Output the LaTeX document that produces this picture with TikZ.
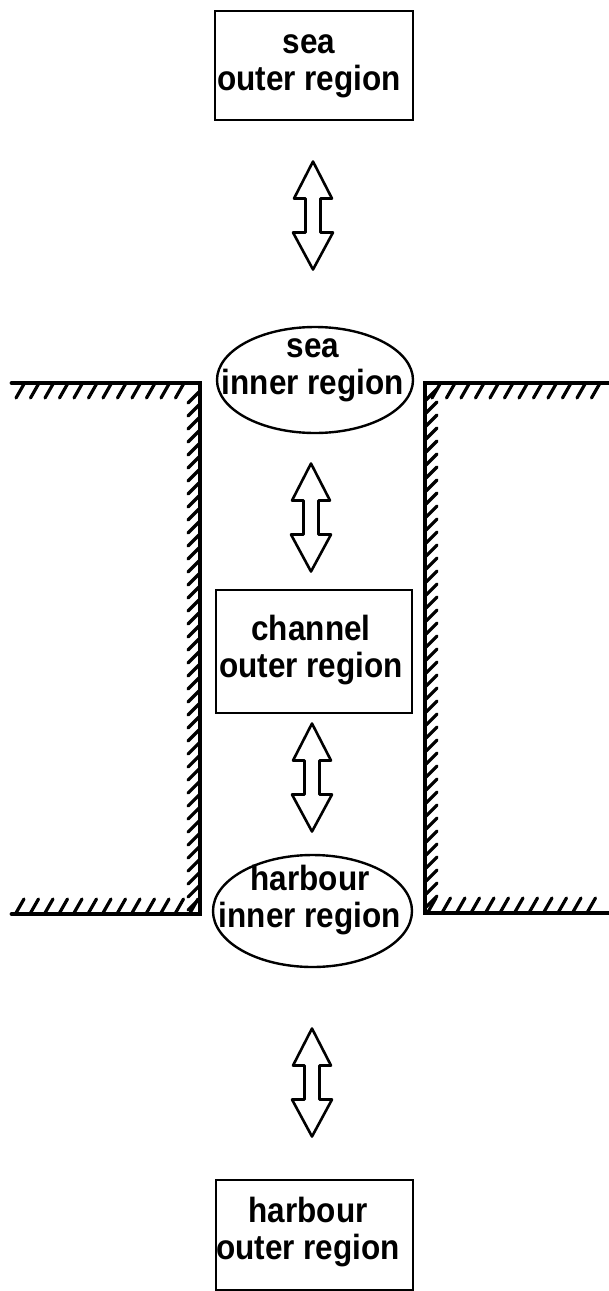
\documentclass[tikz,border=0pt]{standalone}
\usepackage{fontspec}
\setmainfont{Liberation Sans}
\newfontfamily\lettering{Liberation Sans}[UprightFont=*-Bold, FakeStretch=0.9]
\usetikzlibrary{shapes.geometric}

\tikzset{
  boxshape/.style={draw, line width=2.8pt, rectangle, inner sep=0pt},
  ovalshape/.style={draw, line width=2.4pt, ellipse, inner sep=0pt},
  lbl/.style={align=center, inner sep=0pt, font=\lettering\fontsize{35}{37}\selectfont},
  wall/.style={line width=4.8pt, line cap=round, line join=miter},
  hatch/.style={line width=3.2pt, line cap=round},
  arrowline/.style={line width=2.6pt, line join=round},
  updown/.pic={
    \draw[arrowline] (0,-54) -- (19,-17) -- (7.5,-17) -- (7.5,17) -- (20,17)
      -- (0,54) -- (-20,17) -- (-7.5,17) -- (-7.5,-17) -- (-19,-17) -- cycle;
  }
}

\begin{document}
\begin{tikzpicture}[x=1pt, y=-1pt]
  \useasboundingbox (0,0) rectangle (609,1291);

  % region boxes and ovals
  \node[boxshape, minimum width=198pt, minimum height=109pt] (seaouter) at (314,65.5) {};
  \node[ovalshape, minimum width=196pt, minimum height=106pt] (seainner) at (315,380) {};
  \node[boxshape, minimum width=196pt, minimum height=123pt] (channel) at (314,651.5) {};
  \node[ovalshape, minimum width=199pt, minimum height=112pt] (harbinner) at (312.5,911) {};
  \node[boxshape, minimum width=197pt, minimum height=110pt] (harbouter) at (314.5,1235) {};

  % labels
  \node[lbl] (seaoutertext) at (309,66) {sea\\outer region};
  \node[lbl] (seainnertext) at (313,370) {sea\\inner region};
  \node[lbl] (channeltext) at (311,650) {channel\\outer region};
  \node[lbl] (harbinnertext) at (310,900) {harbour\\inner region};
  \node[lbl] (harboutertext) at (308,1232) {harbour\\outer region};

  % exchange arrows between neighbouring regions
  \coordinate (ex1) at (313,215.5);
  \coordinate (ex2) at (311,517.5);
  \coordinate (ex3) at (312,777.5);
  \coordinate (ex4) at (312,1082.5);
  \pic at (ex1) {updown};
  \pic at (ex2) {updown};
  \pic at (ex3) {updown};
  \pic at (ex4) {updown};

  % channel walls
  \coordinate (lwA) at (12,383);
  \coordinate (lwB) at (200,383);
  \coordinate (lwC) at (200,914);
  \coordinate (lwD) at (12,914);
  \coordinate (rwA) at (609,383);
  \coordinate (rwB) at (425,383);
  \coordinate (rwC) at (425,913);
  \coordinate (rwD) at (609,913);
  \draw[wall] (lwA) -- (lwB) -- (lwC) -- (lwD);
  \draw[wall] (rwA) -- (rwB) -- (rwC) -- (rwD);

  % hatching on the land side of the walls
  \foreach \x in {24,38.5,...,196} \draw[hatch] (\x,384) -- ++(-8,14);
  \foreach \y in {392,405,...,900} \draw[hatch] (199,\y) -- ++(-11,11);
  \foreach \x in {16,30.5,...,190} \draw[hatch] (\x,913) -- ++(8,-14);
  \foreach \x in {440,454.5,...,609} \draw[hatch] (\x,384) -- ++(-8,14);
  \foreach \y in {400,413,...,912} \draw[hatch] (426,\y) -- ++(11,-11);
  \foreach \x in {428,442.5,...,600} \draw[hatch] (\x,912) -- ++(8,-14);
\end{tikzpicture}
\end{document}
